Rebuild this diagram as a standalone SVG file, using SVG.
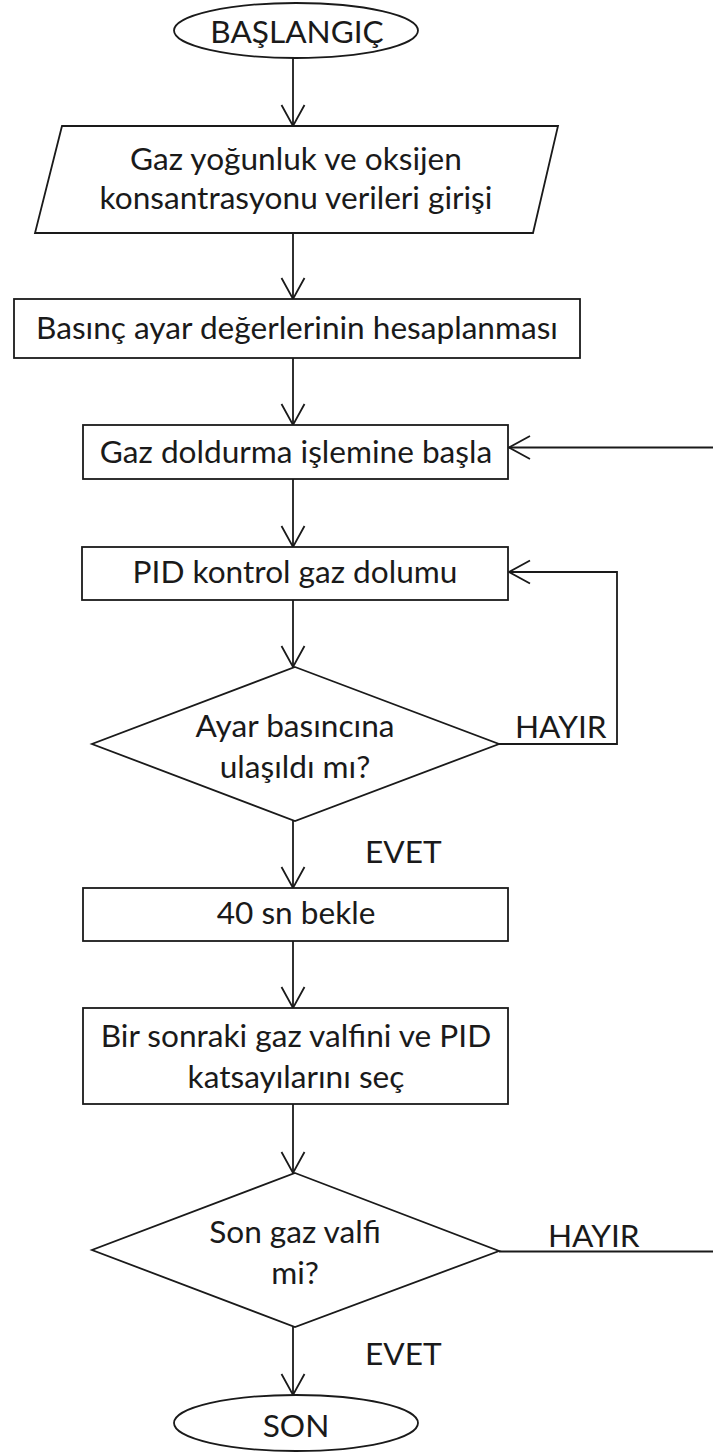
<svg xmlns="http://www.w3.org/2000/svg" width="713" height="1452" viewBox="0 0 713 1452">
<style>
.s{fill:#fff;stroke:#1a1a1a;stroke-width:1.8}
.c{fill:none;stroke:#1a1a1a;stroke-width:1.8}
text{font-family:Lato,"Open Sans","Liberation Sans",sans-serif;font-size:31.6px;fill:#1a1a1a}
.m{text-anchor:middle}
</style>
<defs>
<marker id="a" markerUnits="userSpaceOnUse" viewBox="-24 -14 26 28" markerWidth="26" markerHeight="28" refX="0" refY="0" orient="auto">
<path d="M-21,-11.5 L0,0 L-21,11.5" fill="none" stroke="#1a1a1a" stroke-width="1.8"/>
</marker>
</defs>
<rect width="713" height="1452" fill="#fff"/>
<g id="connectors">
<line class="c" x1="293" y1="58" x2="293" y2="126" marker-end="url(#a)"/>
<line class="c" x1="293" y1="233" x2="293" y2="299" marker-end="url(#a)"/>
<line class="c" x1="293" y1="358" x2="293" y2="425" marker-end="url(#a)"/>
<line class="c" x1="293" y1="479" x2="293" y2="547" marker-end="url(#a)"/>
<line class="c" x1="293" y1="600" x2="293" y2="667" marker-end="url(#a)"/>
<line class="c" x1="293" y1="821" x2="293" y2="888" marker-end="url(#a)"/>
<line class="c" x1="293" y1="941" x2="293" y2="1008" marker-end="url(#a)"/>
<line class="c" x1="293" y1="1104" x2="293" y2="1173" marker-end="url(#a)"/>
<line class="c" x1="293" y1="1327" x2="293" y2="1395" marker-end="url(#a)"/>
<line class="c" x1="713" y1="447.5" x2="509" y2="447.5" marker-end="url(#a)"/>
<polyline class="c" points="499,744 617,744 617,572 509,572" marker-end="url(#a)"/>
<line class="c" x1="499" y1="1251.5" x2="713" y2="1251.5"/>
<text x="515" y="738">HAYIR</text>
<text x="365" y="863">EVET</text>
<text x="548" y="1247">HAYIR</text>
<text x="365" y="1365">EVET</text>
</g>
<g id="start">
<ellipse class="s" cx="296" cy="30.5" rx="122" ry="27.5"/>
<text class="m" x="297" y="43">BAŞLANGIÇ</text>
</g>
<g id="input">
<polygon class="s" points="62,126 558,126 533,233 35,233"/>
<text class="m" x="296" y="170">Gaz yoğunluk ve oksijen</text>
<text class="m" x="296" y="209">konsantrasyonu verileri girişi</text>
</g>
<g id="calc">
<rect class="s" x="14" y="299" width="566" height="59"/>
<text class="m" x="297" y="339">Basınç ayar değerlerinin hesaplanması</text>
</g>
<g id="startfill">
<rect class="s" x="83" y="425" width="425" height="54"/>
<text class="m" x="296" y="463">Gaz doldurma işlemine başla</text>
</g>
<g id="pid">
<rect class="s" x="82" y="547" width="426" height="53"/>
<text class="m" x="295" y="583">PID kontrol gaz dolumu</text>
</g>
<g id="dec1">
<polygon class="s" points="295,667 499,744 295,821 92,744"/>
<text class="m" x="295" y="737">Ayar basıncına</text>
<text class="m" x="295" y="778">ulaşıldı mı?</text>
</g>
<g id="wait">
<rect class="s" x="83" y="888" width="425" height="53"/>
<text class="m" x="296" y="924">40 sn bekle</text>
</g>
<g id="next">
<rect class="s" x="83" y="1008" width="425" height="96"/>
<text class="m" x="296" y="1047">Bir sonraki gaz valfini ve PID</text>
<text class="m" x="296" y="1088">katsayılarını seç</text>
</g>
<g id="dec2">
<polygon class="s" points="295,1173 499,1251 295,1327 92,1250"/>
<text class="m" x="295" y="1243">Son gaz valfi</text>
<text class="m" x="295" y="1284">mi?</text>
</g>
<g id="end">
<ellipse class="s" cx="296" cy="1423" rx="122" ry="28"/>
<text class="m" x="296" y="1437">SON</text>
</g>
</svg>
